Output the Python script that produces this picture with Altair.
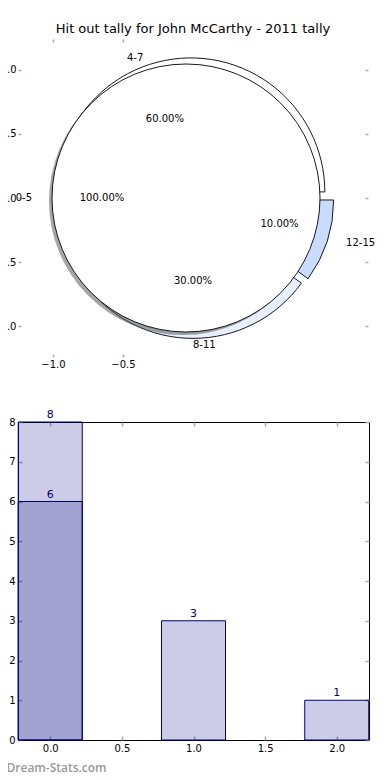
import numpy as np
import pandas as pd
import altair as alt

TITLE = "Hit out tally for John McCarthy - 2011 tally"
WATERMARK = "Dream-Stats.com"

# pie data
inner_labels = ["0-5"]
inner_values = [8]
outer_labels = ["4-7", "8-11", "12-15"]
outer_values = [6, 3, 1]
pie_colors = {"0-5": "#ffffff", "4-7": "#ffffff", "8-11": "#e8efff", "12-15": "#c7dcff"}

# bar data
bar_positions = [0, 1, 2]
bar_values = [8, 3, 1]
overlay_positions = [0]
overlay_values = [6]

# ticks
pie_xticks = [-1.0, -0.5]
pie_yticks = [-1.0, -0.5, 0.0, 0.5, 1.0]
bar_xticks = [0.0, 0.5, 1.0, 1.5, 2.0]
bar_yticks = [0, 1, 2, 3, 4, 5, 6, 7, 8]

EXPLODE = 0.05
LABEL_DIST = 1.1
PCT_DIST = 0.6
FONT = "DejaVu Sans"
GREY = "#aaaaaa"
NAVY = "#000080"
R = 134


def pie_frame(labels, values, layer):
    v = np.array(values, dtype=float)
    frac = v / v.sum()
    t1 = np.cumsum(frac)
    t0 = t1 - frac
    mid = np.pi * (t0 + t1)
    c, s = np.cos(mid), np.sin(mid)
    cx, cy = EXPLODE * c, EXPLODE * s
    return pd.DataFrame({
        "label": labels,
        "layer": layer,
        "t0": t0,
        "t1": t1,
        "cx": cx,
        "cy": cy,
        "lx": cx + LABEL_DIST * c,
        "ly": cy + LABEL_DIST * s,
        "px": cx + PCT_DIST * c,
        "py": cy + PCT_DIST * s,
        "pct": [f"{f * 100:.2f}%" for f in frac],
        "align": ["right" if cc < -1e-9 else "left" for cc in c],
    })


inner_df = pie_frame(inner_labels, inner_values, "inner")
outer_df = pie_frame(outer_labels, outer_values, "outer")
pie_df = pd.concat([inner_df, outer_df], ignore_index=True)

px_scale = alt.Scale(domain=[-1.25, 1.25], nice=False, zero=False, padding=0)
py_scale = alt.Scale(domain=[-1.242, 1.242], nice=False, zero=False, padding=0)
theta_scale = alt.Scale(domain=[0, 1], range=[2.5 * np.pi, 0.5 * np.pi])
fill_scale = alt.Scale(domain=list(pie_colors.keys()), range=list(pie_colors.values()))


def ax(orient, values, labels, tick, pad, fmt):
    kw = dict(orient=orient, values=values, domain=False, grid=False, ticks=True,
              tickSize=tick, tickColor=GREY, tickWidth=1.5, offset=-tick, labels=labels,
              title=None)
    if labels:
        kw.update(format=fmt, labelPadding=pad, labelFontSize=10, labelFont=FONT,
                  labelColor="black")
    return alt.Axis(**kw)


outer_arcs = alt.Chart(outer_df).mark_arc(radius=R, stroke="black", strokeWidth=0.9).encode(
    x=alt.X("cx:Q", scale=px_scale, axis=ax("bottom", pie_xticks, True, 3, 2, ".1f")),
    y=alt.Y("cy:Q", scale=py_scale, axis=ax("left", pie_yticks, True, 3, 2, ".1f")),
    theta=alt.Theta("t0:Q", scale=theta_scale),
    theta2=alt.Theta2("t1:Q"),
    fill=alt.Fill("label:N", scale=fill_scale, legend=None),
)

shadow = alt.Chart(inner_df).mark_arc(radius=R, fill="#4d4d4d", opacity=0.5,
                                      xOffset=-3, yOffset=3).encode(
    x=alt.X("cx:Q", scale=px_scale, axis=None),
    y=alt.Y("cy:Q", scale=py_scale, axis=None),
    theta=alt.Theta("t0:Q", scale=theta_scale),
    theta2=alt.Theta2("t1:Q"),
)

inner_arc = alt.Chart(inner_df).mark_arc(radius=R, stroke="black", strokeWidth=0.9).encode(
    x=alt.X("cx:Q", scale=px_scale, axis=ax("top", pie_xticks, False, 3, 4, ".1f")),
    y=alt.Y("cy:Q", scale=py_scale, axis=ax("right", pie_yticks, False, 3, 5, ".1f")),
    theta=alt.Theta("t0:Q", scale=theta_scale),
    theta2=alt.Theta2("t1:Q"),
    fill=alt.Fill("label:N", scale=fill_scale, legend=None),
)


def label_layer(align):
    return alt.Chart(pie_df).transform_filter(alt.datum.align == align).mark_text(
        align=align, baseline="middle", font=FONT, fontSize=10, color="black").encode(
        x=alt.X("lx:Q", scale=px_scale, axis=None),
        y=alt.Y("ly:Q", scale=py_scale, axis=None),
        text="label:N",
    )


pct_layer = alt.Chart(pie_df).mark_text(align="center", baseline="middle", font=FONT,
                                        fontSize=10, color="black").encode(
    x=alt.X("px:Q", scale=px_scale, axis=None),
    y=alt.Y("py:Q", scale=py_scale, axis=None),
    text="pct:N",
)

pie = alt.layer(outer_arcs, shadow, inner_arc, label_layer("left"), label_layer("right"),
                pct_layer).resolve_axis(x="independent", y="independent").properties(
    width=350, height=318,
    title=alt.TitleParams(TITLE, font=FONT, fontSize=13, fontWeight="normal",
                          color="black", offset=2, anchor="middle"),
    view=alt.ViewBackground(stroke="transparent"),
)

# ---------------- bar chart ----------------
bar_df = pd.DataFrame({"pos": bar_positions, "value": bar_values})
ov_df = pd.DataFrame({"pos": overlay_positions, "value": overlay_values})
lab_df = pd.concat([bar_df, ov_df], ignore_index=True)

bx_scale = alt.Scale(domain=[-0.225, 2.225], nice=False, zero=False, padding=0)
by_scale = alt.Scale(domain=[0, 8], nice=False, padding=0)

bottom_x_axis = alt.Axis(orient="bottom", values=bar_xticks, domain=False, grid=False,
                         tickSize=4, tickColor=GREY, tickWidth=1.5, offset=-4,
                         format=".1f", labelPadding=3, labelFontSize=10, labelFont=FONT,
                         labelColor="black", title=WATERMARK, titleFont="Open Sans",
                         titleFontSize=12, titleFontWeight=600, titleColor="#999999",
                         titleAlign="left", titleBaseline="alphabetic", titleX=-12,
                         titleY=35, titleAnchor="start")

bars = alt.Chart(bar_df).mark_bar(orient="vertical", size=64, fill=NAVY, fillOpacity=0.2,
                                  stroke=NAVY, strokeWidth=1).encode(
    x=alt.X("pos:Q", scale=bx_scale, axis=bottom_x_axis),
    y=alt.Y("value:Q", scale=by_scale,
            axis=ax("left", bar_yticks, True, 4, 3, "d")),
)

overlay = alt.Chart(ov_df).mark_bar(orient="vertical", size=64, fill=NAVY, fillOpacity=0.2,
                                    stroke=NAVY, strokeWidth=1).encode(
    x=alt.X("pos:Q", scale=bx_scale, axis=ax("top", bar_xticks, False, 4, 3, ".1f")),
    y=alt.Y("value:Q", scale=by_scale, axis=ax("right", bar_yticks, False, 4, 3, "d")),
)

bar_labels = alt.Chart(lab_df).mark_text(align="center", baseline="alphabetic", dy=-4,
                                         font=FONT, fontSize=11, color=NAVY).encode(
    x=alt.X("pos:Q", scale=bx_scale, axis=None),
    y=alt.Y("value:Q", scale=by_scale, axis=None),
    text="value:Q",
)

bar_chart = alt.layer(bars, overlay, bar_labels).resolve_axis(
    x="independent", y="independent").properties(
    width=351, height=318,
    view=alt.ViewBackground(stroke="black", strokeWidth=1),
)

chart = alt.vconcat(pie, bar_chart, spacing=65, bounds="flush").properties(
    padding={"left": -17, "top": 14, "right": 0, "bottom": 0},
    background="white",
).configure_text(font=FONT)

chart.save("out.html", embed_options={"renderer": "svg", "actions": False})
